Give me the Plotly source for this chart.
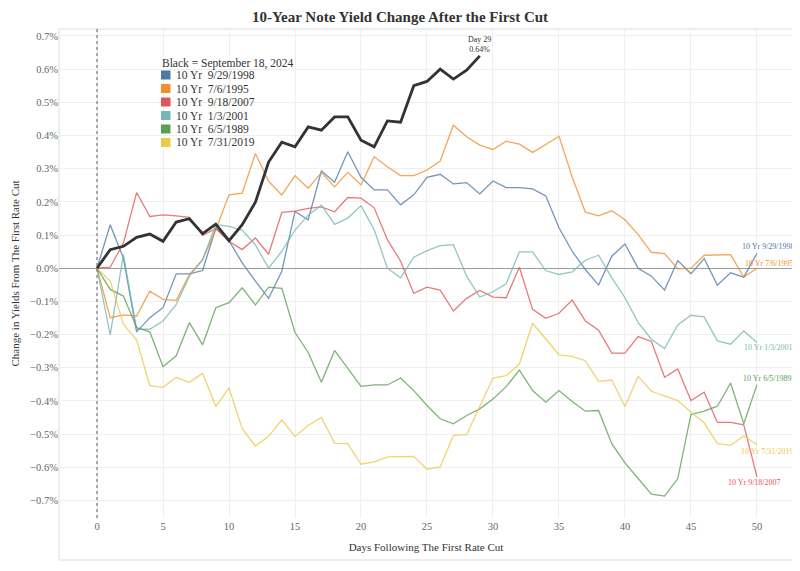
import plotly.graph_objects as go

# ---------------- data (change in yield, percentage points) ----------------
days = list(range(0, 51))
days_2024 = list(range(0, 30))

y2024 = [0, 0.056, 0.066, 0.093, 0.103, 0.081, 0.139, 0.149, 0.104, 0.133,
         0.083, 0.131, 0.199, 0.32, 0.38, 0.366, 0.426, 0.416, 0.456, 0.456,
         0.386, 0.366, 0.444, 0.44, 0.55, 0.563, 0.60, 0.57, 0.597, 0.64]

y1998 = [0, 0.131, 0.03, -0.192, -0.149, -0.119, -0.017, -0.017, -0.007, 0.121,
         0.083, 0.016, -0.039, -0.091, -0.009, 0.171, 0.146, 0.293, 0.259, 0.351,
         0.274, 0.236, 0.236, 0.191, 0.221, 0.274, 0.283, 0.254, 0.258, 0.224,
         0.263, 0.243, 0.243, 0.239, 0.218, 0.122, 0.051, -0.004, -0.051, 0.036,
         0.073, 0.0, -0.024, -0.066, 0.023, -0.017, 0.029, -0.051, -0.014, -0.027,
         0.045]

y1995 = [0, -0.149, -0.141, -0.144, -0.069, -0.094, -0.097, -0.019, 0.026, 0.116,
         0.221, 0.226, 0.346, 0.262, 0.221, 0.279, 0.241, 0.288, 0.245, 0.289,
         0.251, 0.336, 0.306, 0.279, 0.279, 0.296, 0.323, 0.431, 0.396, 0.371,
         0.358, 0.383, 0.374, 0.349, 0.373, 0.398, 0.275, 0.169, 0.158, 0.173,
         0.146, 0.101, 0.048, 0.044, -0.002, 0.0, 0.039, 0.039, 0.041, -0.027,
         0.0]

y2007 = [0, 0.003, 0.076, 0.228, 0.156, 0.161, 0.158, 0.153, 0.099, 0.119,
         0.081, 0.056, 0.091, 0.042, 0.168, 0.172, 0.18, 0.185, 0.17, 0.213,
         0.211, 0.182, 0.086, 0.021, -0.076, -0.057, -0.066, -0.129, -0.091, -0.067,
         -0.087, -0.089, 0.003, -0.124, -0.151, -0.136, -0.096, -0.159, -0.187, -0.256,
         -0.256, -0.206, -0.221, -0.329, -0.304, -0.399, -0.374, -0.465, -0.465, -0.472,
         -0.629]

y2001 = [0, -0.201, 0.041, -0.184, -0.184, -0.159, -0.109, -0.024, 0.026, 0.131,
         0.126, 0.115, 0.07, 0.0, 0.051, 0.115, 0.16, 0.19, 0.132, 0.151,
         0.188, 0.116, 0.0, -0.029, 0.033, 0.053, 0.068, 0.071, -0.024, -0.087,
         -0.071, -0.047, 0.049, 0.049, -0.007, -0.019, -0.011, 0.024, 0.039, -0.029,
         -0.089, -0.164, -0.214, -0.242, -0.171, -0.142, -0.147, -0.219, -0.229, -0.189,
         -0.224]

y1989 = [0, -0.064, -0.084, -0.179, -0.192, -0.297, -0.264, -0.164, -0.231, -0.119,
         -0.104, -0.059, -0.111, -0.057, -0.061, -0.194, -0.254, -0.344, -0.248, -0.301,
         -0.356, -0.352, -0.352, -0.331, -0.369, -0.414, -0.454, -0.469, -0.444, -0.424,
         -0.394, -0.357, -0.307, -0.369, -0.404, -0.369, -0.402, -0.431, -0.429, -0.529,
         -0.587, -0.634, -0.681, -0.687, -0.634, -0.441, -0.431, -0.416, -0.346, -0.469,
         -0.351]

y2019 = [0, -0.039, -0.169, -0.217, -0.354, -0.359, -0.329, -0.344, -0.317, -0.417,
         -0.361, -0.484, -0.536, -0.507, -0.457, -0.507, -0.474, -0.45, -0.528, -0.529,
         -0.591, -0.584, -0.569, -0.567, -0.567, -0.606, -0.599, -0.504, -0.502, -0.416,
         -0.331, -0.324, -0.289, -0.166, -0.214, -0.261, -0.266, -0.279, -0.341, -0.337,
         -0.417, -0.326, -0.371, -0.384, -0.399, -0.434, -0.466, -0.529, -0.534, -0.506,
         -0.532]

series_names = ["10 Yr  9/29/1998", "10 Yr  7/6/1995", "10 Yr  9/18/2007",
                "10 Yr  1/3/2001", "10 Yr  6/5/1989", "10 Yr  7/31/2019"]
end_labels = ["10 Yr 9/29/1998", "10 Yr 7/6/1995", "10 Yr 9/18/2007",
              "10 Yr 1/3/2001", "10 Yr 6/5/1989", "10 Yr 7/31/2019"]
series_values = [y1998, y1995, y2007, y2001, y1989, y2019]

x_ticks = [0, 5, 10, 15, 20, 25, 30, 35, 40, 45, 50]

# ---------------- styling ----------------
colors = ["#4e79a7", "#f28e2b", "#e15759", "#76b7b2", "#59a14f", "#edc948"]
label_shift = [(12, 7), (13, 5), (-2, -6), (12, -5), (11, 6), (11, -7)]  # (xshift, yshift) px

# The page body adds an 8px offset; the figure is sized/placed to compensate.
OFF = 8
W, H = 800 - OFF, 571 - OFF
PLOT_L, PLOT_R, PLOT_T, PLOT_B = 59, 793, 29, 518   # plot area in page pixels
ML, MR = PLOT_L - OFF, W - (PLOT_R - OFF)
MT, MB = PLOT_T - OFF, H - (PLOT_B - OFF)
PW, PH = W - ML - MR, H - MT - MB
SERIF = "Liberation Serif"


def px(x):
    """page pixel x -> paper coordinate"""
    return (x - PLOT_L) / PW


def py(y):
    """page pixel y -> paper coordinate"""
    return (PLOT_B - y) / PH


fig = go.Figure()

for name, vals, col in zip(series_names, series_values, colors):
    fig.add_trace(go.Scatter(x=days[:len(vals)], y=vals, mode="lines", name=name,
                             line=dict(color=col, width=1.3), opacity=0.78,
                             showlegend=False, hoverinfo="skip"))

fig.add_trace(go.Scatter(x=days_2024, y=y2024, mode="lines", name="September 18, 2024",
                         line=dict(color="#333333", width=2.8), showlegend=False,
                         hoverinfo="skip"))

annotations = []
# end-of-line labels
for lab, vals, col, (xs, ys) in zip(end_labels, series_values, colors, label_shift):
    annotations.append(dict(x=days[len(vals) - 1], y=vals[-1], xref="x", yref="y",
                            text=lab, showarrow=False, xanchor="center", yanchor="middle",
                            xshift=xs, yshift=ys,
                            font=dict(family=SERIF, size=8, color=col)))

# Day 29 annotation
annotations.append(dict(x=days_2024[-1], y=y2024[-1], xref="x", yref="y",
                        text=f"Day {days_2024[-1]}<br>{y2024[-1]:.2f}%", showarrow=False,
                        xanchor="center", yanchor="middle", yshift=11,
                        font=dict(family=SERIF, size=8, color="#333333")))

# custom legend
leg_x, leg_title_y, leg_row0, leg_dy = 161, 63, 75, 13.5
annotations.append(dict(x=px(leg_x - 1), y=py(leg_title_y), xref="paper", yref="paper",
                        text="Black = September 18, 2024", showarrow=False,
                        xanchor="left", yanchor="middle",
                        font=dict(family=SERIF, size=11.5, color="#333333")))
shapes = []
for i, (name, col) in enumerate(zip(series_names, colors)):
    cy = leg_row0 + i * leg_dy
    shapes.append(dict(type="rect", xref="paper", yref="paper",
                       x0=px(leg_x), x1=px(leg_x + 9.5), y0=py(cy + 4.5), y1=py(cy - 4.5),
                       fillcolor=col, line=dict(width=0)))
    annotations.append(dict(x=px(leg_x + 13), y=py(cy), xref="paper", yref="paper",
                            text=name, showarrow=False, xanchor="left", yanchor="middle",
                            font=dict(family=SERIF, size=11.5, color="#333333")))

# frame
shapes.append(dict(type="rect", xref="paper", yref="paper", x0=0, x1=1,
                   y0=py(560), y1=1, line=dict(color="#dcdcdc", width=1), layer="below"))
# dotted reference line at day 0
shapes.append(dict(type="line", xref="x", yref="paper", x0=x_ticks[0], x1=x_ticks[0],
                   y0=0, y1=1, line=dict(color="#777777", width=1.2, dash="dot")))

fig.update_layout(
    width=W, height=H,
    margin=dict(l=ML, r=MR, t=MT, b=MB, autoexpand=False),
    paper_bgcolor="white", plot_bgcolor="white",
    title=dict(text="<b>10-Year Note Yield Change After the First Cut</b>",
               x=(400 - OFF) / W, xanchor="center", y=1 - 3 / H, yanchor="top",
               pad=dict(t=0, b=0),
               font=dict(family=SERIF, size=15, color="#333333")),
    font=dict(family=SERIF, color="#555555"),
    annotations=annotations,
    shapes=shapes,
    showlegend=False,
)

fig.update_xaxes(range=[-2.88, 52.73], tickmode="array", tickvals=x_ticks, automargin=False,
                 showgrid=True, gridcolor="#efefef", gridwidth=1, zeroline=False,
                 showline=False, ticks="", tickfont=dict(family=SERIF, size=10.5, color="#666666"),
                 title=dict(text="Days Following The First Rate Cut", standoff=12,
                            font=dict(family=SERIF, size=11, color="#333333")))

fig.update_yaxes(range=[-0.753, 0.721], dtick=0.1, tick0=0, tickformat=".1f", ticksuffix="%",
                 automargin=False,
                 showgrid=True, gridcolor="#efefef", gridwidth=1,
                 zeroline=True, zerolinecolor="#9a9a9a", zerolinewidth=1.4,
                 showline=False, ticks="", tickfont=dict(family=SERIF, size=10.5, color="#666666"),
                 title=dict(text="Change in Yields From The First Rate Cut", standoff=8,
                            font=dict(family=SERIF, size=11, color="#333333")))

fig.write_html("out.html")
